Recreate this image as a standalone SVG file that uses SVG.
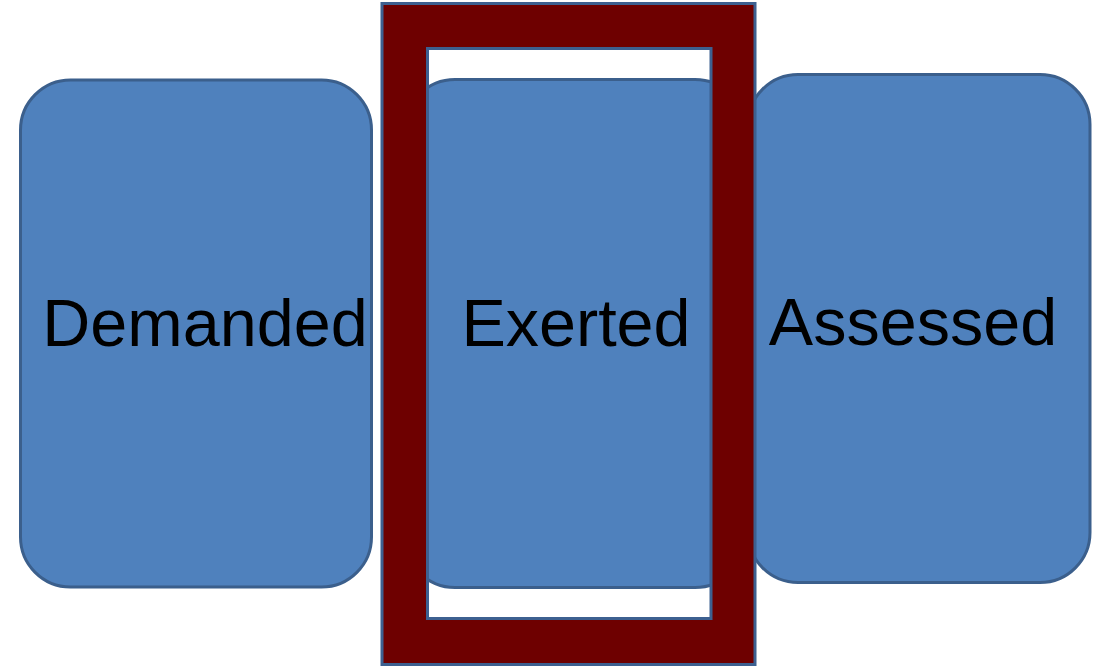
<svg xmlns="http://www.w3.org/2000/svg" width="1100" height="666" viewBox="0 0 1100 666">
<style>
.box{fill:#4f81bd;stroke:#3b5f8c;stroke-width:3}
.lbl{font-family:"Liberation Sans",Arial,sans-serif;font-size:66.5px;fill:#000;text-anchor:middle}
.frame{fill:#6e0000;stroke:#3d6090;stroke-width:3;fill-rule:evenodd}
</style>
<rect width="1100" height="666" fill="#fff"/>
<g id="demanded">
<rect class="box" x="20.5" y="80" width="351" height="507" rx="50"/>
<text class="lbl" x="205" y="346">Demanded</text>
</g>
<g id="exerted">
<rect class="box" x="405" y="79.5" width="340" height="508" rx="50"/>
<text class="lbl" x="576" y="346">Exerted</text>
</g>
<g id="assessed">
<rect class="box" x="748" y="74.5" width="342" height="508" rx="50"/>
<text class="lbl" x="913" y="345">Assessed</text>
</g>
<g id="highlight">
<path class="frame" d="M382,3.5 H755 V664.5 H382 Z M427.5,48.5 V618.5 H711 V48.5 Z"/>
</g>
<g id="connectors"></g>
</svg>
